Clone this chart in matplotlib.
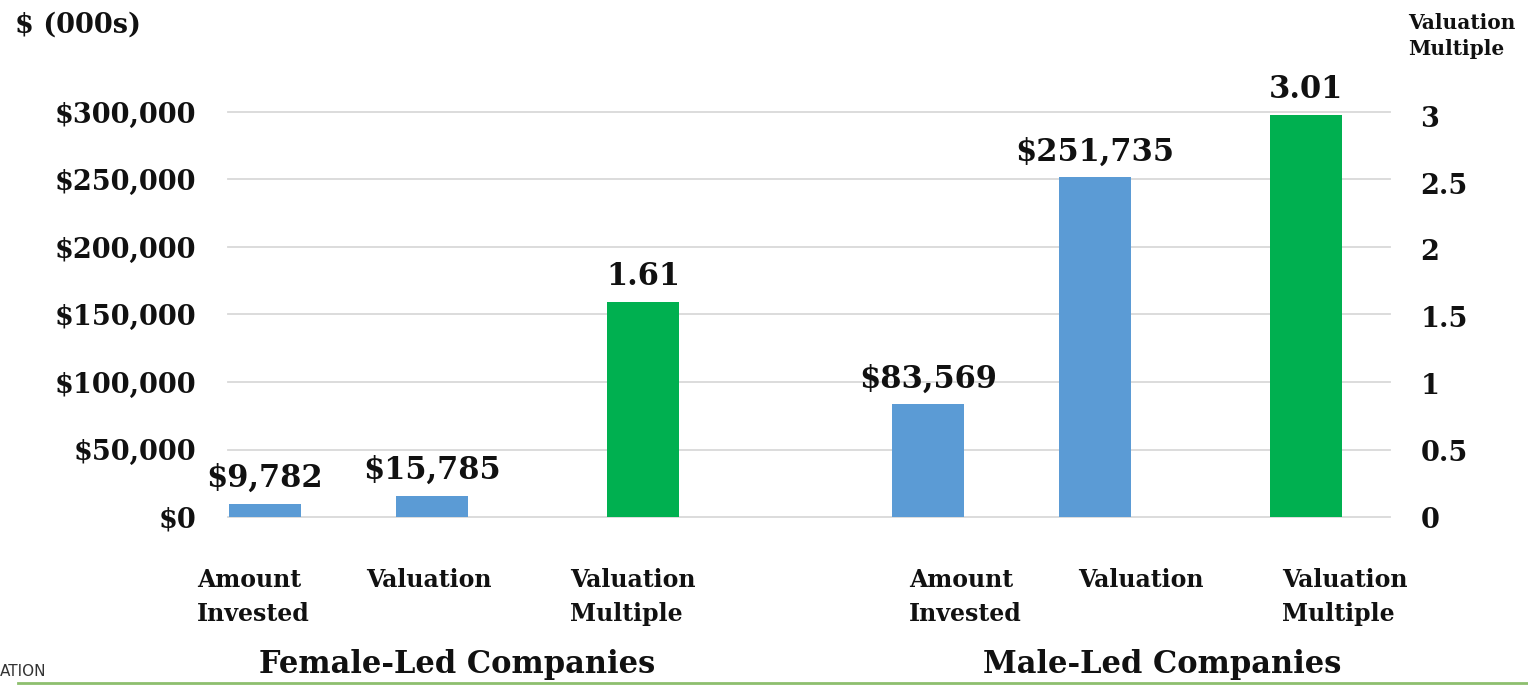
import matplotlib
matplotlib.use("Agg")
import matplotlib.pyplot as plt
from matplotlib.lines import Line2D

# ---- data ----
groups = ["Female-Led Companies", "Male-Led Companies"]
categories = ["Amount\nInvested", "Valuation", "Valuation\nMultiple"]
amount_invested = [9782, 83569]          # $ (000s)
valuation = [15785, 251735]              # $ (000s)
valuation_multiple = [1.61, 3.01]

left_ticks = [0, 50000, 100000, 150000, 200000, 250000, 300000]
right_ticks = [0, 0.5, 1, 1.5, 2, 2.5, 3]
right_tick_labels = ["0", "0.5", "1", "1.5", "2", "2.5", "3"]

# ---- layout (pixel-like units along the plot width) ----
W, H = 1528, 685
ax_left, ax_right, ax_bottom_px, ax_top_px = 228, 1390, 517, 112
group_offsets = [0, 663]
slot_centers = [37, 204, 415]
bar_w = 72
label_left = [[197, 366, 570], [909, 1078, 1282]]
group_title_x = [457, 1162]

BLUE = "#5B9BD5"
GREEN = "#00B050"
FONT = "DejaVu Serif"
TXT = "#111111"

fig = plt.figure(figsize=(W / 100, H / 100), dpi=100)
ax = fig.add_axes([ax_left / W, (H - ax_bottom_px) / H,
                   (ax_right - ax_left) / W, (ax_bottom_px - ax_top_px) / H])
ax2 = ax.twinx()

ax.set_xlim(0, ax_right - ax_left)
ax.set_ylim(0, 300000)
px_per_unit_right = 133.6
ax2.set_ylim(0, (ax_bottom_px - ax_top_px) / px_per_unit_right)

# gridlines (under all bars)
for t in left_ticks:
    ax.axhline(t, color="#D9D9D9", lw=1.3, zorder=1, clip_on=False)

for g in range(len(groups)):
    xs = [group_offsets[g] + c for c in slot_centers]
    for x, v in zip(xs[:2], [amount_invested[g], valuation[g]]):
        ax.bar(x, v, width=bar_w, color=BLUE, zorder=3)
        ax.annotate(f"${v:,.0f}", (x, v), xytext=(0, 7), textcoords="offset points",
                    ha="center", va="bottom", fontsize=22, fontweight="bold",
                    family=FONT, color=TXT, zorder=4)
    m = valuation_multiple[g]
    ax2.bar(xs[2], m, width=bar_w, color=GREEN, zorder=3)
    ax2.annotate(f"{m:.2f}", (xs[2], m), xytext=(0, 7), textcoords="offset points",
                 ha="center", va="bottom", fontsize=22, fontweight="bold",
                 family=FONT, color=TXT, zorder=4)

ax.set_yticks(left_ticks)
ax.set_yticklabels([f"${t:,.0f}" for t in left_ticks])
ax2.set_yticks(right_ticks)
ax2.set_yticklabels(right_tick_labels)
ax.set_xticks([])
for a in (ax, ax2):
    for s in a.spines.values():
        s.set_visible(False)
    a.tick_params(axis="y", length=0)
    for lab in a.get_yticklabels():
        lab.set_fontsize(19.5)
        lab.set_fontweight("bold")
        lab.set_family(FONT)
        lab.set_color(TXT)
ax.tick_params(axis="y", pad=23)
ax2.tick_params(axis="y", pad=22)
ax2.patch.set_visible(False)

# category labels and group titles
for g in range(len(groups)):
    for c, lx in zip(categories, label_left[g]):
        fig.text(lx / W, 1 - 568 / H, c, ha="left", va="top", fontsize=17,
                 fontweight="bold", family=FONT, color=TXT, linespacing=1.55)
    fig.text(group_title_x[g] / W, 1 - 665 / H, groups[g], ha="center", va="center",
             fontsize=22, fontweight="bold", family=FONT, color=TXT)

fig.text(15 / W, 1 - 25 / H, "$ (000s)", ha="left", va="center", fontsize=19.5,
         fontweight="bold", family=FONT, color=TXT)
fig.text(1408 / W, 1 - 36 / H, "Valuation\nMultiple", ha="left", va="center",
         fontsize=14.5, fontweight="bold", family=FONT, color=TXT, linespacing=1.4)
fig.text(0, 1 - 672 / H, "ATION", ha="left", va="center", fontsize=11,
         family="DejaVu Sans", color="#333333")
fig.add_artist(Line2D([18 / W, 1], [1 - 683 / H, 1 - 683 / H], color="#8DBF6E",
                      lw=2, transform=fig.transFigure))

fig.savefig("out.png", dpi=100)
